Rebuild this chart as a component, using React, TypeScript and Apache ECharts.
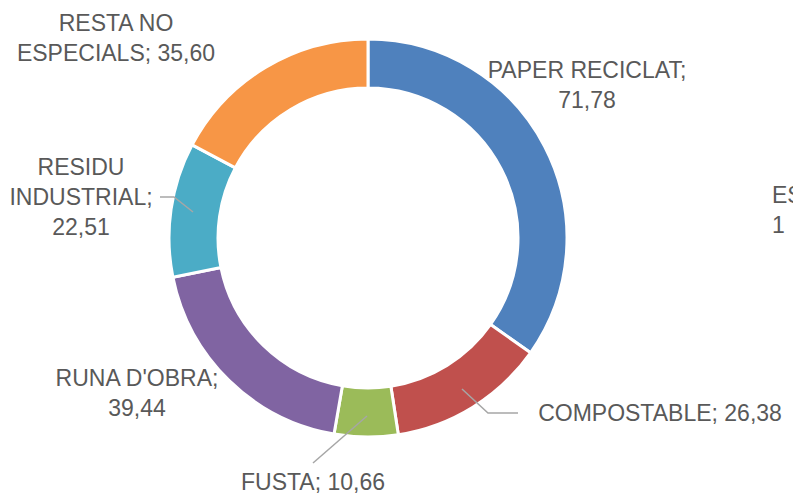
import React, { useEffect, useRef } from "react";
import * as echarts from "echarts";

const categories = [
  "PAPER RECICLAT",
  "COMPOSTABLE",
  "FUSTA",
  "RUNA D'OBRA",
  "RESIDU\nINDUSTRIAL",
  "RESTA NO\nESPECIALS",
];
const values = [71.78, 26.38, 10.66, 39.44, 22.51, 35.6];
const separators = ";\n|; |; |;\n|;\n|; ".split("|");
const colors = ["#4F81BD", "#C0504D", "#9BBB59", "#8064A2", "#4BACC6", "#F79646"];

// label anchor positions (label centres) and leader lines
const labelPos: [number, number][] = [
  [587, 85],
  [660, 413],
  [313, 482],
  [137, 393],
  [81, 197],
  [116, 38],
];
const leaderLines: ([number, number][] | null)[] = [
  null,
  [[462, 389], [488, 413], [518, 413]],
  [[367, 416], [313, 463]],
  null,
  [[193, 212], [174, 197], [160, 197]],
  null,
];

export default function App() {
  const ref = useRef<HTMLDivElement>(null);
  useEffect(() => {
    if (!ref.current) return;
    const chart = echarts.init(ref.current, undefined, { renderer: "svg" });
    const fmt = (v: number) => v.toFixed(2).replace(".", ",");
    chart.setOption({
      animation: false,
      backgroundColor: "#ffffff",
      textStyle: { fontFamily: "Liberation Sans" },
      series: [
        {
          type: "pie",
          center: [368, 238],
          radius: [150, 199],
          startAngle: 90,
          clockwise: true,
          avoidLabelOverlap: false,
          itemStyle: { borderColor: "#ffffff", borderWidth: 3 },
          label: {
            show: true,
            position: "outside",
            color: "#595959",
            fontSize: 23,
            lineHeight: 30,
            fontFamily: "Liberation Sans",
            formatter: (p: any) => p.name + separators[p.dataIndex] + fmt(p.value),
          },
          labelLine: { show: false },
          labelLayout: (p: any) => {
            const i = p.dataIndex;
            return {
              x: labelPos[i][0],
              y: labelPos[i][1],
              align: "center",
              verticalAlign: "middle",
            };
          },
          data: categories.map((c, i) => ({
            name: c,
            value: values[i],
            itemStyle: { color: colors[i] },
          })),
        },
      ],
      graphic: [
        ...leaderLines
          .filter((l) => l !== null)
          .map((pts) => ({
            type: "polyline",
            z: 100,
            shape: { points: pts },
            style: { stroke: "#A6A6A6", lineWidth: 1.5, fill: "none" },
          })),
        {
          type: "text",
          left: 772,
          top: 180,
          style: {
            text: "ES\n1",
            fill: "#595959",
            fontSize: 23,
            lineHeight: 30,
            fontFamily: "Liberation Sans",
          },
        },
      ],
    });
    return () => chart.dispose();
  }, []);
  return (
    <div
      ref={ref}
      style={{ position: "fixed", left: 0, top: 0, width: 793, height: 495 }}
    />
  );
}
